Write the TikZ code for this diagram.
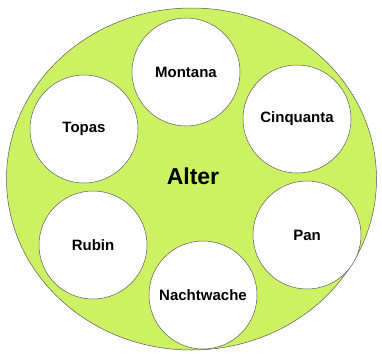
\documentclass[tikz,border=0pt]{standalone}
\usepackage{fontspec}
\setmainfont{Liberation Sans}
\definecolor{lime}{RGB}{204,242,100}
\definecolor{edge}{RGB}{90,90,90}
\begin{document}
\begin{tikzpicture}[x=1pt,y=-1pt,
  variety/.style={circle,draw=edge,line width=0.5pt,fill=white,minimum size=108pt,inner sep=0pt,font=\fontsize{15}{17}\selectfont\bfseries}]
\useasboundingbox (0,0) rectangle (382,353);
\fill[white] (0,0) rectangle (382,353);
\draw[draw=edge,line width=0.5pt,fill=lime] (191.5,179) ellipse [x radius=185, y radius=171];
\node[font=\fontsize{23}{26}\selectfont\bfseries] (alter) at (193,176) {Alter};
\node[variety] (montana) at (186,72) {Montana};
\node[variety] (cinquanta) at (297,119) {Cinquanta};
\node[variety] (topas) at (84,129) {Topas};
\node[variety] (rubin) at (93,245) {Rubin};
\node[variety] (pan) at (307,235) {Pan};
\node[variety] (nachtwache) at (203,295) {Nachtwache};
\end{tikzpicture}
\end{document}
